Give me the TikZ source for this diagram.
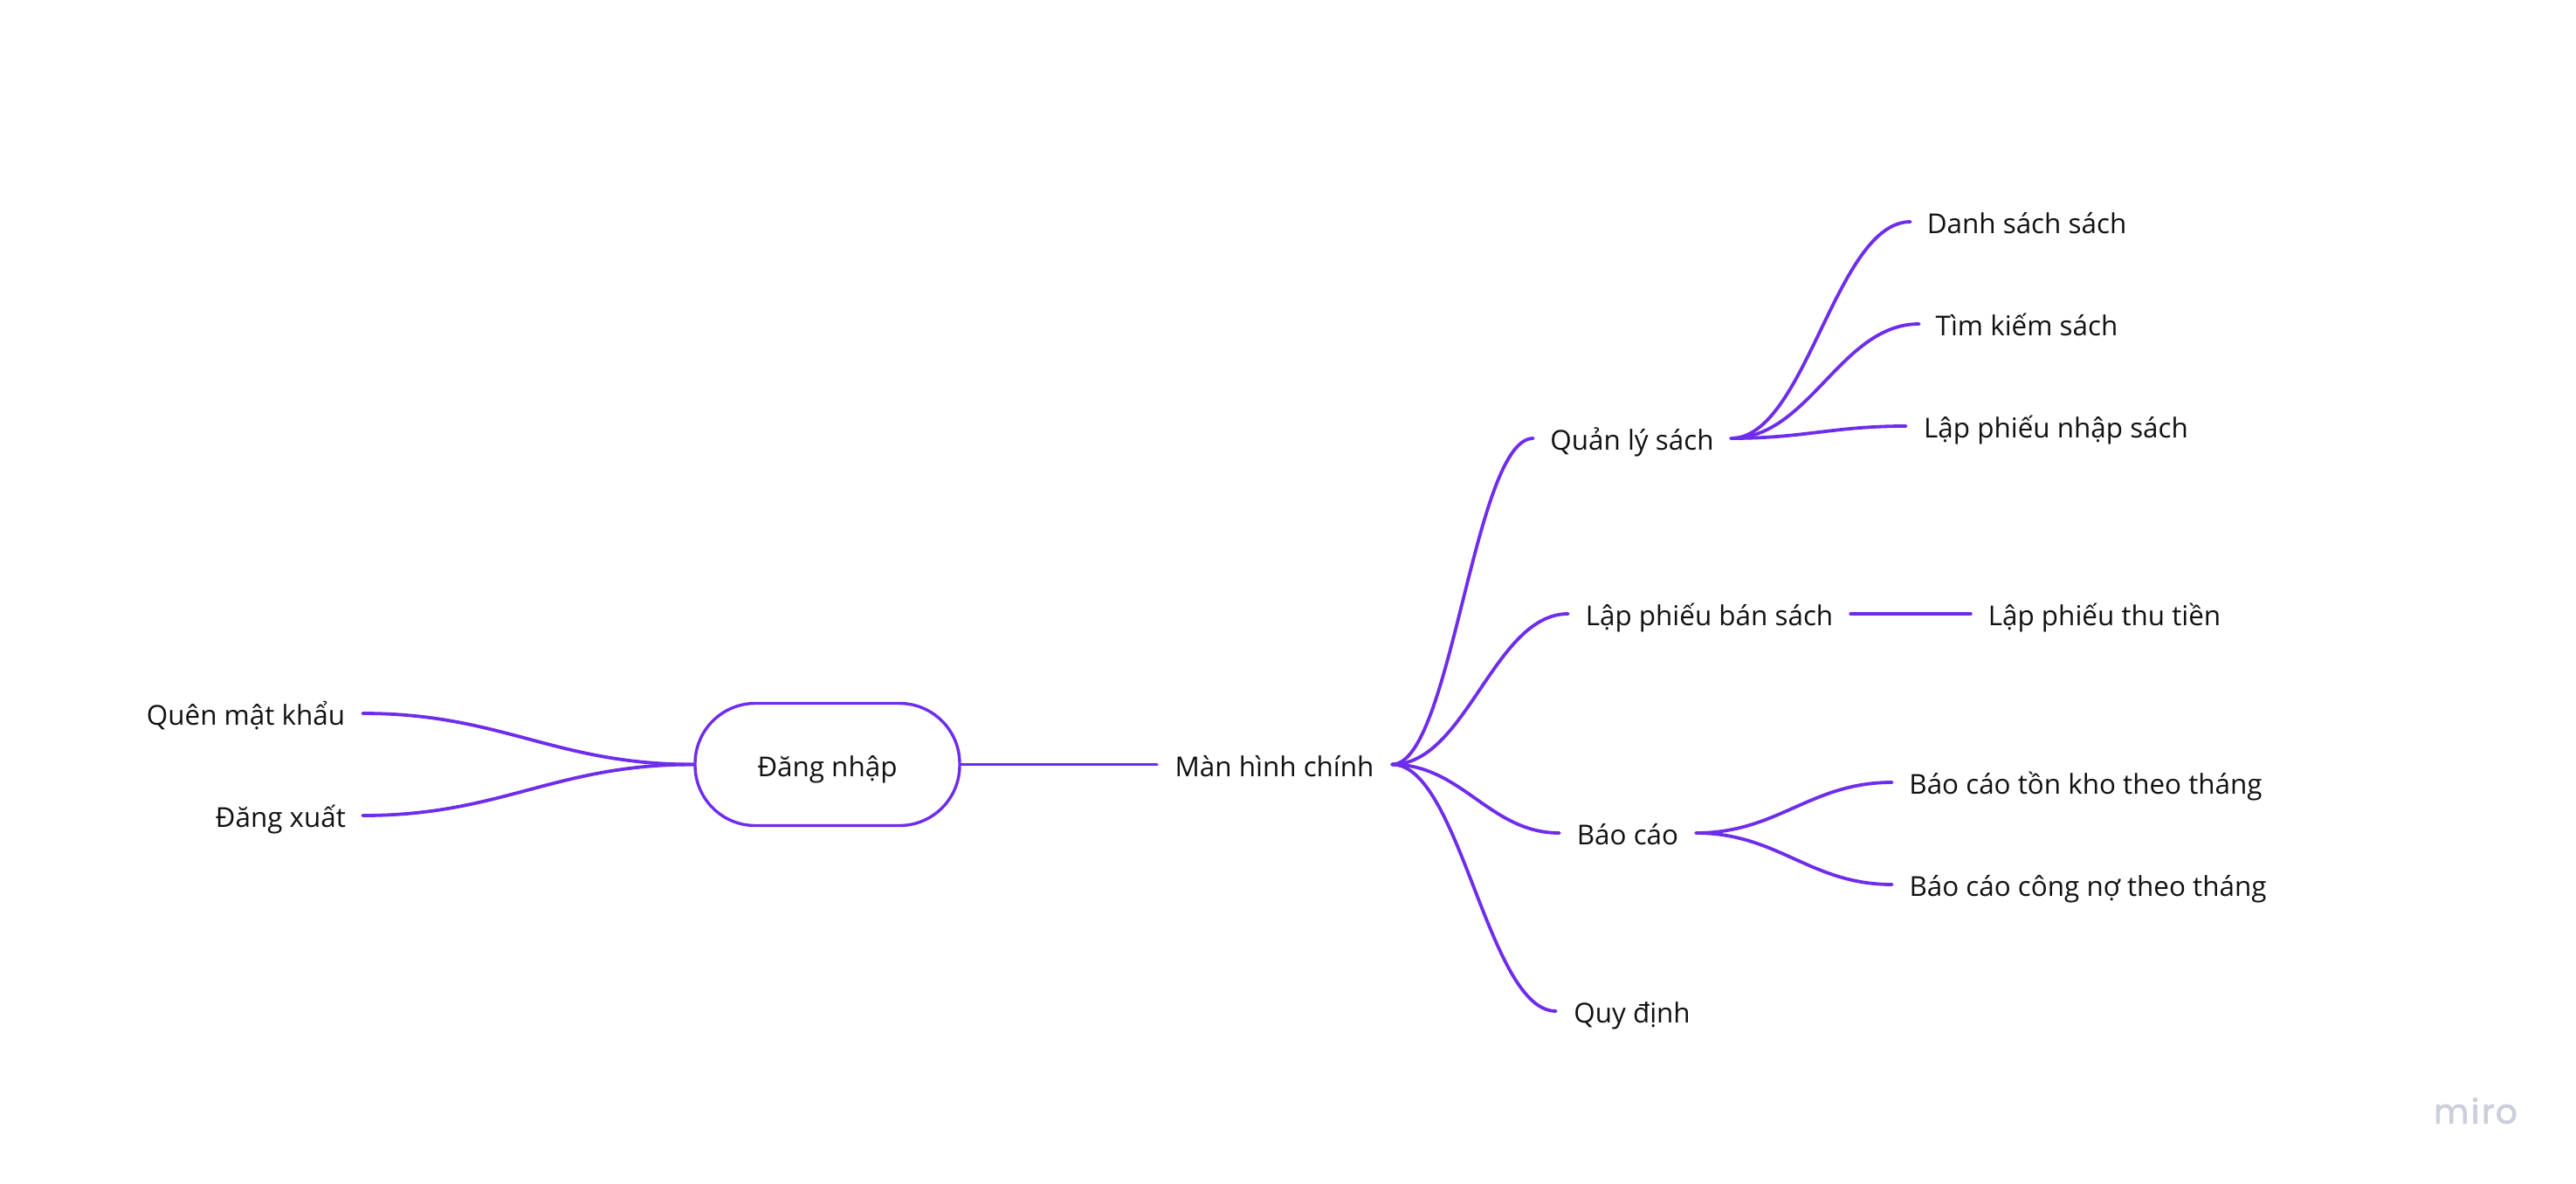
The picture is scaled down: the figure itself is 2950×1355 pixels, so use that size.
\documentclass[tikz,border=0pt]{standalone}
\usepackage{fontspec}
\setmainfont{Open Sans}
\newfontfamily\logofont[FakeBold=2]{Poppins}
\definecolor{linkviolet}{HTML}{6E2CEC}
\definecolor{inktext}{HTML}{111111}
\definecolor{logogrey}{HTML}{CDCEDC}
\tikzset{
  x=1pt,y=-1pt,
  label box/.style={inner sep=0pt,minimum height=60pt,text=inktext,
    font=\fontsize{31.4}{38}\selectfont,text height=34pt,text depth=7pt,align=center},
  pill box/.style={label box,draw=linkviolet,line width=3.4pt,rounded corners=69pt,
    minimum width=303pt,minimum height=140pt},
  link/.style={draw=linkviolet,line width=3.8pt,line cap=round},
}
\newcommand{\sig}[3]{\draw[link] (#1) .. controls +(#3,0) and +(-#3,0) .. (#2);}
\begin{document}
\begin{tikzpicture}
\useasboundingbox (0,0) rectangle (2950,1355);
\fill[white] (0,0) rectangle (2950,1355);
\node[pill box] (login) at (947.5,875.5) {Đăng nhập};
\node[label box,minimum width=267pt] (forgot) at (281.5,817) {Quên mật khẩu};
\node[label box,minimum width=187pt] (logout) at (321.5,934) {Đăng xuất};
\node[label box,minimum width=269pt] (main) at (1459.5,875.5) {Màn hình chính};
\node[label box,minimum width=226pt] (books) at (1869,502) {Quản lý sách};
\node[label box,minimum width=323pt] (sale) at (1957.5,703) {Lập phiếu bán sách};
\node[label box,minimum width=306pt] (receipt) at (2410,703) {Lập phiếu thu tiền};
\node[label box,minimum width=156pt] (report) at (1864,954) {Báo cáo};
\node[label box,minimum width=174pt] (rules) at (1869,1158) {Quy định};
\node[label box,minimum width=266pt] (list) at (2321,254) {Danh sách sách};
\node[label box,minimum width=246pt] (search) at (2321,371) {Tìm kiếm sách};
\node[label box,minimum width=343pt] (import) at (2354.5,488) {Lập phiếu nhập sách};
\node[label box,minimum width=443pt] (stock) at (2388.5,896) {Báo cáo tồn kho theo tháng};
\node[label box,minimum width=448pt] (debt) at (2391,1013) {Báo cáo công nợ theo tháng};
\node[inner sep=0pt,text=logogrey,font=\logofont\fontsize{39}{48}\selectfont] (logo) at (2835,1272) {m\kern2.5pt i\kern2.5pt r\kern1.5pt o};
\sig{login.west}{forgot.east}{-160}
\sig{login.west}{logout.east}{-160}
\draw[link] (login.east) -- (main.west);
\sig{main.east}{books.west}{68}
\sig{main.east}{sale.west}{85}
\sig{main.east}{report.west}{80}
\sig{main.east}{rules.west}{78}
\sig{books.east}{list.west}{86}
\sig{books.east}{search.west}{90}
\sig{books.east}{import.west}{84}
\draw[link] (sale.east) -- (receipt.west);
\sig{report.east}{stock.west}{94}
\sig{report.east}{debt.west}{94}
\end{tikzpicture}
\end{document}
